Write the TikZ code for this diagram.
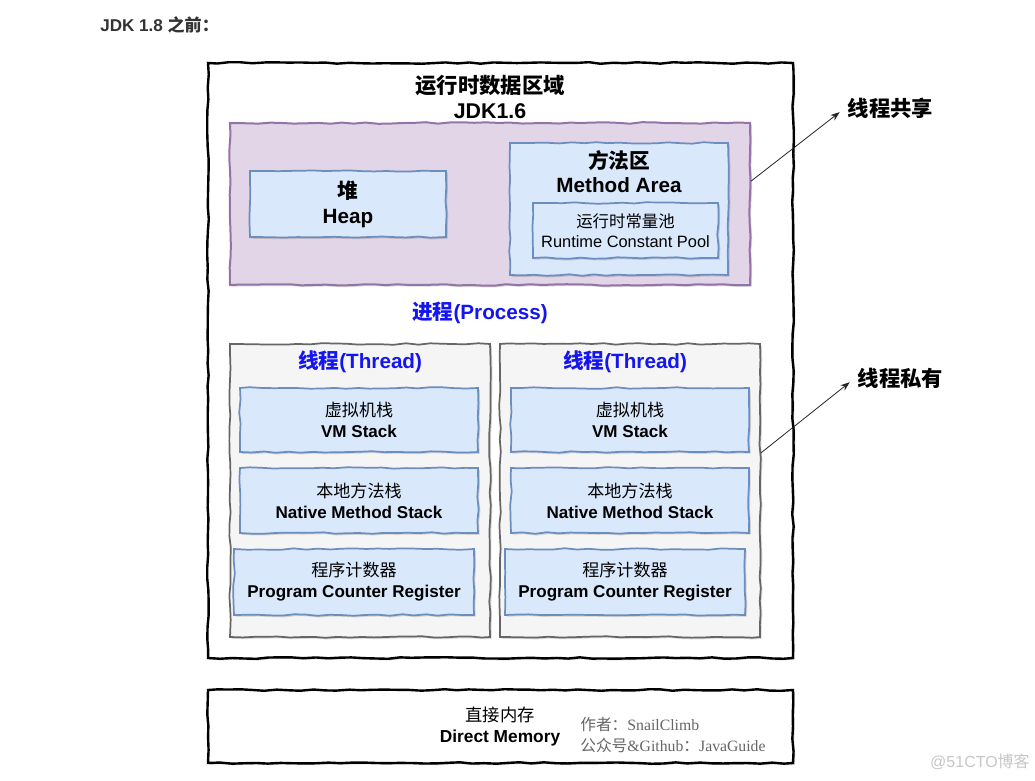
\documentclass[tikz,border=0pt]{standalone}
\usepackage{fontspec}
\setmainfont{Liberation Sans}
\newfontfamily\cjk{Noto Sans CJK SC}
\newfontfamily\timesfont{Liberation Serif}
\usetikzlibrary{arrows.meta,decorations.pathmorphing,shadows}
\definecolor{bluefill}{HTML}{DAE8FC}
\definecolor{blueline}{HTML}{6C8EBF}
\definecolor{purplefill}{HTML}{E1D5E7}
\definecolor{purpleline}{HTML}{9673A6}
\definecolor{greyfill}{HTML}{F5F5F5}
\definecolor{greyline}{HTML}{666666}
\definecolor{headtext}{HTML}{333333}
\definecolor{processblue}{HTML}{1515F0}
\begin{document}
\begin{tikzpicture}[x=0.75pt, y=-0.75pt,
    sketch/.style={decorate, decoration={random steps, segment length=9pt, amplitude=0.6pt}},
    softshadow/.style={drop shadow={shadow xshift=1.3pt, shadow yshift=-1.3pt, opacity=0.25, fill=black!60}},
    outerbox/.style={sketch, draw=black, fill=white, line width=1.8pt, softshadow},
    sharedbox/.style={sketch, draw=purpleline, fill=purplefill, line width=1.5pt, softshadow},
    threadbox/.style={sketch, draw=greyline, fill=greyfill, line width=1.3pt, softshadow},
    blockbox/.style={sketch, draw=blueline, fill=bluefill, line width=1.3pt, softshadow,
      align=center, font=\bfseries\fontsize{12.8}{15.75}\selectfont},
    bigtext/.style={align=center, font=\bfseries\fontsize{16}{18.75}\selectfont},
    bluetitle/.style={text=processblue, font=\bfseries\fontsize{15.5}{18}\selectfont},
    sidelabel/.style={anchor=west, inner sep=2pt, font=\cjk\bfseries\fontsize{16}{19}\selectfont},
    pointer/.style={-{Stealth[length=7pt, width=5pt]}, line width=0.6pt, black!85}]
  \fill[white] (0,0) rectangle (1035,781);
  \useasboundingbox (0,0) rectangle (1035,781);

  \node[anchor=west, inner sep=0, text=headtext, font=\bfseries\fontsize{12.8}{14}\selectfont] (heading) at (100,25) {JDK 1.8 {\cjk\bfseries 之前：}};

  % runtime data area
  \node[outerbox, minimum width=438.75pt, minimum height=446.25pt] (runtime) at (500.5,360.5) {};
  \node[bigtext] (title) at (490,97) {{\cjk\bfseries 运行时数据区域}\\JDK1.6};

  \node[sharedbox, minimum width=390pt, minimum height=121.5pt] (shared) at (490,204) {};
  \node[blockbox, minimum width=147pt, minimum height=49.5pt, font=\bfseries\fontsize{15.5}{18.75}\selectfont] (heap) at (348,204) {{\cjk\bfseries 堆}\\Heap};
  \node[blockbox, minimum width=163.5pt, minimum height=99pt] (method) at (619,209) {};
  \node[bigtext, font=\bfseries\fontsize{15.5}{18}\selectfont] (methodtitle) at (619,172) {{\cjk\bfseries 方法区}\\Method Area};
  \node[blockbox, minimum width=138.75pt, minimum height=41.25pt, font=\fontsize{12.3}{15}\selectfont] (pool) at (625.5,230.5) {{\cjk 运行时常量池}\\Runtime Constant Pool};

  \node[bluetitle] (process) at (480,313) {{\cjk\bfseries 进程}(Process)};

  % threads
  \node[threadbox, minimum width=195pt, minimum height=219.75pt] (threadA) at (360,490.5) {};
  \node[threadbox, minimum width=195pt, minimum height=219.75pt] (threadB) at (630,490.5) {};
  \node[bluetitle] (threadAtitle) at (360,362) {{\cjk\bfseries 线程}(Thread)};
  \node[bluetitle] (threadBtitle) at (625,362) {{\cjk\bfseries 线程}(Thread)};

  \node[blockbox, minimum width=178.5pt, minimum height=48pt] (vmA) at (359,420) {{\cjk\mdseries 虚拟机栈}\\VM Stack};
  \node[blockbox, minimum width=178.5pt, minimum height=48.75pt] (nativeA) at (359,500.5) {{\cjk\mdseries 本地方法栈}\\Native Method Stack};
  \node[blockbox, minimum width=180pt, minimum height=49.5pt] (pcA) at (354,582) {{\cjk\mdseries 程序计数器}\\Program Counter Register};
  \node[blockbox, minimum width=178.5pt, minimum height=48pt] (vmB) at (630,420) {{\cjk\mdseries 虚拟机栈}\\VM Stack};
  \node[blockbox, minimum width=178.5pt, minimum height=48.75pt] (nativeB) at (630,500.5) {{\cjk\mdseries 本地方法栈}\\Native Method Stack};
  \node[blockbox, minimum width=180pt, minimum height=49.5pt] (pcB) at (625,582) {{\cjk\mdseries 程序计数器}\\Program Counter Register};

  % side labels
  \node[sidelabel] (sharedlabel) at (845,108) {线程共享};
  \node[sidelabel] (privatelabel) at (855,378) {线程私有};
  \draw[pointer, shorten >=5pt] (shared.5) -- (sharedlabel.west);
  \draw[pointer, shorten >=5pt] (threadB.16) -- (privatelabel.west);

  % direct memory
  \node[outerbox, minimum width=438.75pt, minimum height=54.75pt] (direct) at (500.5,726.5) {};
  \node[align=center, font=\fontsize{13}{15.75}\selectfont] (directtext) at (500,726.5) {{\cjk 直接内存}\\\textbf{Direct Memory}};
  \node[anchor=west, align=left, inner sep=0, text=black!60, font=\timesfont\fontsize{11.8}{15.75}\selectfont] (author) at (580,735.5) {{\cjk 作者：}SnailClimb\\{\cjk 公众号}\&Github{\cjk ：}JavaGuide};

  \node[anchor=east, inner sep=0, text=black!22, font=\fontsize{12}{14}\selectfont] (mark) at (1030,762) {@51CTO{\cjk 博客}};
\end{tikzpicture}
\end{document}
